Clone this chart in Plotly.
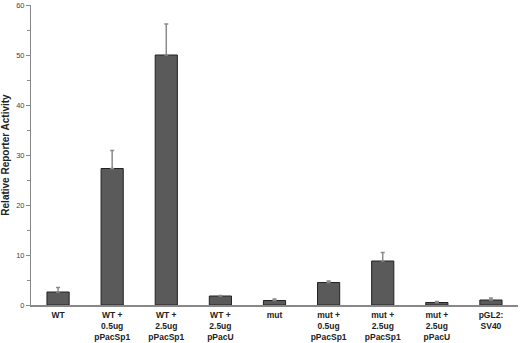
import plotly.graph_objects as go

categories = ["WT", "WT +<br>0.5ug<br>pPacSp1", "WT +<br>2.5ug<br>pPacSp1", "WT +<br>2.5ug<br>pPacU",
              "mut", "mut +<br>0.5ug<br>pPacSp1", "mut +<br>2.5ug<br>pPacSp1", "mut +<br>2.5ug<br>pPacU",
              "pGL2:<br>SV40"]
values = [2.6, 27.3, 50.0, 1.8, 0.9, 4.5, 8.8, 0.5, 1.0]
errors = [0.9, 3.6, 6.2, 0.1, 0.3, 0.3, 1.7, 0.2, 0.4]
y_ticks = [0, 10, 20, 30, 40, 50, 60]

fig = go.Figure(go.Bar(
    x=categories, y=values,
    marker=dict(color="#5a5a5a", line=dict(color="#222222", width=1)),
    width=0.41,
    error_y=dict(type="data", array=errors, arrayminus=[0]*len(errors), symmetric=False,
                 color="#8a8a8a", thickness=1.5, width=2),
))

fig.update_layout(
    width=520, height=343,
    margin=dict(l=31, r=2, t=5, b=38),
    plot_bgcolor="white", paper_bgcolor="white",
    showlegend=False,
    bargap=0.59,
    font=dict(family="Liberation Sans, Arial, sans-serif", color="#222"),
)
fig.update_xaxes(
    showline=True, linecolor="#888", linewidth=1.5,
    ticks="", tickfont=dict(size=8.5, color="#222", family="Liberation Sans, Arial"),
    tickprefix="<b>", ticksuffix="</b>",
    range=[-0.5, 8.5], automargin=False, ticklabelstandoff=1,
)
fig.update_yaxes(
    range=[0, 60], tickvals=y_ticks,
    showline=True, linecolor="#888", linewidth=1,
    ticks="outside", ticklen=4, tickcolor="#888",
    minor=dict(tickvals=[5, 15, 25, 35, 45, 55], ticks="outside", ticklen=3, tickcolor="#888"),
    showgrid=False, zeroline=False, automargin=False,
    tickfont=dict(size=7.5, color="#444"),
    title=dict(text="<b>Relative Reporter Activity</b>", font=dict(size=10, color="#222"), standoff=6),
)
fig.write_html("out.html", config={"displayModeBar": False},
               post_script="document.body.style.margin='0';document.body.style.overflow='hidden';")
